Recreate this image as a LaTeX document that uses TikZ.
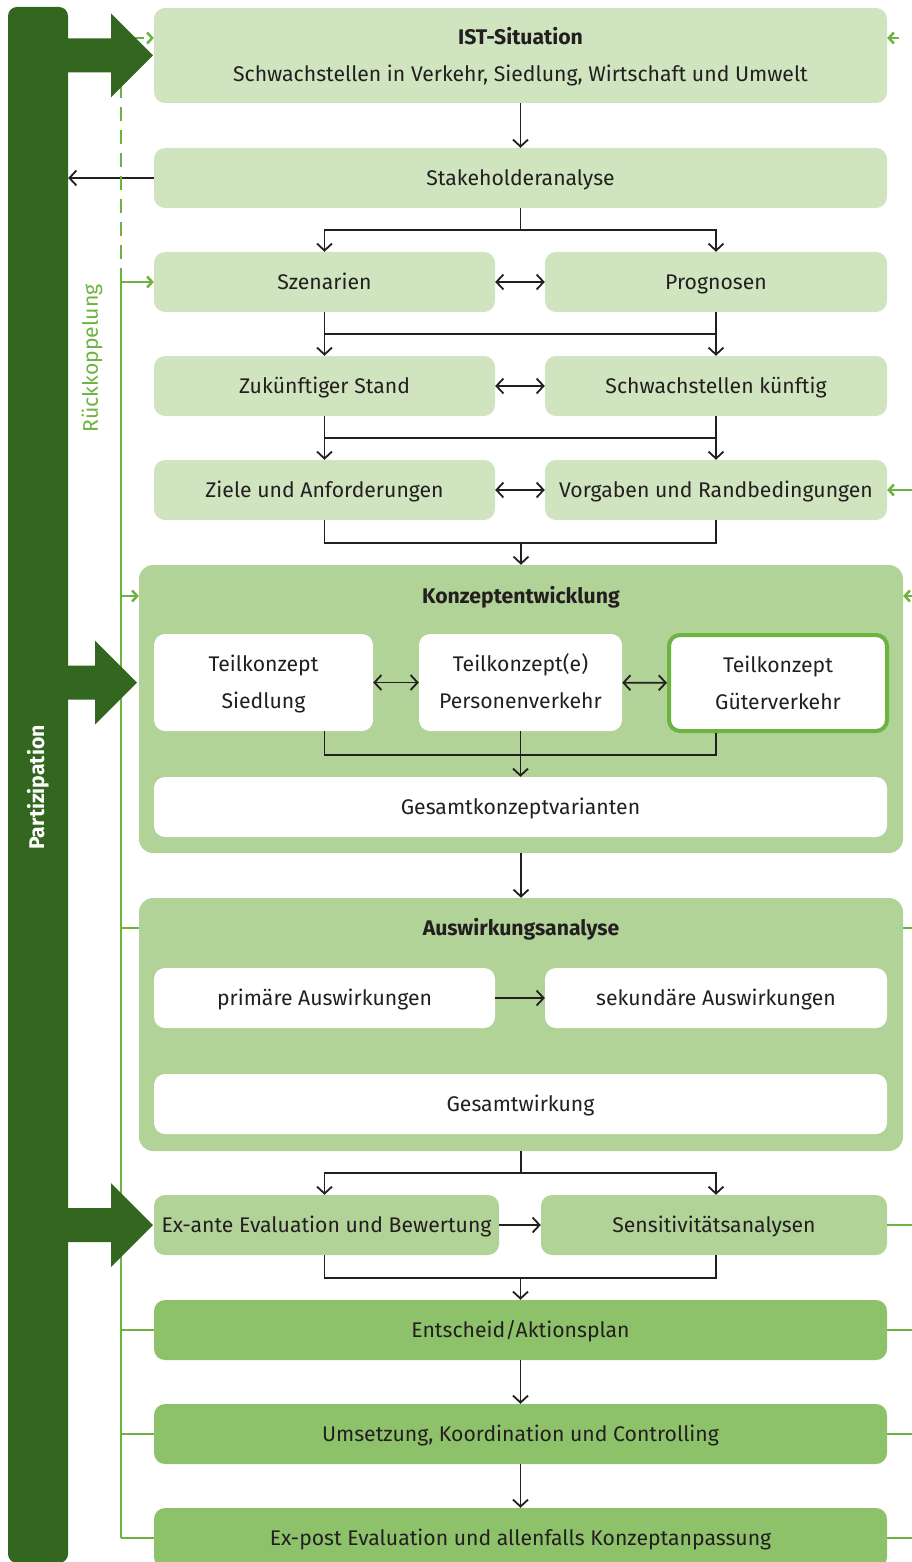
\documentclass[tikz,border=0pt]{standalone}
\usepackage{fontspec}
\setmainfont{Fira Sans}
\usetikzlibrary{arrows.meta}

\definecolor{dunkel}{HTML}{33661E}
\definecolor{hell}{HTML}{D0E4BF}
\definecolor{mittel}{HTML}{B2D398}
\definecolor{satt}{HTML}{8EC26A}
\definecolor{gruen}{HTML}{6DB33F}
\definecolor{schrift}{HTML}{231F20}

\begin{document}
\begin{tikzpicture}[x=1pt, y=-1pt,
  stufe/.style={rounded corners=11pt, fill=hell, text=schrift, inner sep=0pt, align=center,
    font=\fontsize{21.2}{37}\selectfont, minimum height=60, text height=15.5pt, text depth=0pt},
  zweizeilig/.style={text height=52.5pt, text depth=0pt},
  breit/.style={stufe, minimum width=733},
  halb/.style={stufe, minimum width=341},
  feld/.style={stufe, fill=mittel, rounded corners=14pt},
  weiss/.style={stufe, fill=white},
  titel/.style={text=schrift, font=\fontsize{21.2}{26}\selectfont\bfseries, text height=15.5pt, text depth=0pt},
  linie/.style={line width=1.8pt, schrift},
  pfeil/.style={linie, -{Straight Barb[length=7pt,width=15pt]}},
  doppel/.style={linie, {Straight Barb[length=7pt,width=15pt]}-{Straight Barb[length=7pt,width=15pt]}},
  rueckline/.style={line width=2.5pt, gruen},
  rueckpfeil/.style={rueckline, -{Straight Barb[length=5pt,width=11pt]}}]
\useasboundingbox (0,0) rectangle (912,1562);

% 왼쪽 막대
\node[fill=dunkel, rounded corners=9pt, inner sep=0pt, minimum width=60, minimum height=1556] (balken) at (38,785) {};
\node[rotate=90, text=white, font=\fontsize{21.2}{26}\selectfont\bfseries] (part) at (38,787.5) {Partizipation};
\node[rotate=90, text=gruen, font=\fontsize{21.2}{26}\selectfont] (rueck) at (92,358.5) {Rückkoppelung};

% 단계
\node[breit, zweizeilig, minimum height=95] (ist) at (520.5,55.5) {\textbf{IST-Situation}\\Schwachstellen in Verkehr, Siedlung, Wirtschaft und Umwelt};
\node[breit] (stake) at (520.5,178) {Stakeholderanalyse};
\node[halb] (szen) at (324.5,282) {Szenarien};
\node[halb, minimum width=342] (prog) at (716,282) {Prognosen};
\node[halb] (zuk) at (324.5,386) {Zukünftiger Stand};
\node[halb, minimum width=342] (schw) at (716,386) {Schwachstellen künftig};
\node[halb] (ziele) at (324.5,490) {Ziele und Anforderungen};
\node[halb, minimum width=342] (vorg) at (716,490) {Vorgaben und Randbedingungen};

% Konzeptentwicklung
\node[feld, minimum width=764, minimum height=288] (konz) at (521,709) {};
\node[titel] (konzt) at (521,596) {Konzeptentwicklung};
\node[weiss, zweizeilig, minimum width=219, minimum height=97] (tsied) at (263.5,682.5) {Teilkonzept\\Siedlung};
\node[weiss, zweizeilig, minimum width=203, minimum height=97] (tpers) at (520.5,682.5) {Teilkonzept(e)\\Personenverkehr};
\node[weiss, zweizeilig, draw=gruen, line width=4pt, minimum width=218, minimum height=96] (tgut) at (778,683) {Teilkonzept\\Güterverkehr};
\node[weiss, minimum width=733] (gesk) at (520.5,807) {Gesamtkonzeptvarianten};

% Auswirkungsanalyse
\node[feld, minimum width=764, minimum height=253] (ausw) at (521,1024.5) {};
\node[titel] (auswt) at (521,928) {Auswirkungsanalyse};
\node[weiss, minimum width=341] (prim) at (324.5,998) {primäre Auswirkungen};
\node[weiss, minimum width=342] (sek) at (716,998) {sekundäre Auswirkungen};
\node[weiss, minimum width=733] (gesw) at (520.5,1104) {Gesamtwirkung};

\node[stufe, fill=mittel, minimum width=345] (exante) at (326.5,1225) {Ex-ante Evaluation und Bewertung};
\node[stufe, fill=mittel, minimum width=346] (sens) at (714,1225) {Sensitivitätsanalysen};
\node[breit, fill=satt] (ents) at (520.5,1330) {Entscheid/Aktionsplan};
\node[breit, fill=satt] (ums) at (520.5,1434) {Umsetzung, Koordination und Controlling};
\node[breit, fill=satt] (expost) at (520.5,1538) {Ex-post Evaluation und allenfalls Konzeptanpassung};

% 검은 화살표
\coordinate (z1) at (324.5,543); \coordinate (z2) at (716,543);
\coordinate (k1) at (324.5,755); \coordinate (k2) at (716,755);
\coordinate (a1) at (324.5,1173); \coordinate (a2) at (716,1173);
\coordinate (e1) at (324.5,1278); \coordinate (e2) at (716,1278);

\draw[pfeil] (ist) -- (stake);
\draw[pfeil] (stake) -- (stake -| balken.east);
\draw[pfeil] (stake.south) -- ++(0,22) -| (szen.north);
\draw[pfeil] (stake.south) -- ++(0,22) -| (prog.north);
\draw[doppel] (szen) -- (prog);
\draw[pfeil] (szen) -- (zuk);
\draw[pfeil] (prog) -- (schw);
\draw[linie] ([yshift=-22pt]szen.south) -- ([yshift=-22pt]prog.south);
\draw[doppel] (zuk) -- (schw);
\draw[pfeil] (zuk) -- (ziele);
\draw[pfeil] (schw) -- (vorg);
\draw[linie] ([yshift=-22pt]zuk.south) -- ([yshift=-22pt]schw.south);
\draw[doppel] (ziele) -- (vorg);
\draw[linie] (ziele.south) -- (z1) -- (z2) -- (vorg.south);
\draw[pfeil] (z1 -| konz.north) -- (konz.north);

\draw[doppel] (tsied) -- (tpers);
\draw[doppel] (tpers) -- (tgut);
\draw[linie] (k1 |- tsied.south) -- (k1) -- (k2) -- (k2 |- tgut.south);
\draw[pfeil] (tpers) -- (gesk);
\draw[pfeil] (konz) -- (ausw);
\draw[pfeil] (prim) -- (sek);

\draw[pfeil] (ausw.south) |- (a1) -- (a1 |- exante.north);
\draw[pfeil] (ausw.south) |- (a2) -- (a2 |- sens.north);
\draw[pfeil] (exante) -- (sens);
\draw[linie] (e1 |- exante.south) -- (e1) -- (e2) -- (e2 |- sens.south);
\draw[pfeil] (e1 -| ents.north) -- (ents.north);
\draw[pfeil] (ents) -- (ums);
\draw[pfeil] (ums) -- (expost);

% 초록 되먹임 선
\coordinate (rl) at (121,0);
\coordinate (rr) at (912,0);
\coordinate (ri) at ([yshift=17.5pt]ist.west);
\coordinate (ro) at (899,38);
\draw[rueckpfeil, dash pattern=on 14pt off 9pt] (rl |- szen) |- (ri);
\draw[rueckpfeil] (rl |- szen) -- (szen);
\draw[rueckline] (rl |- szen) -- (rl |- expost);
\draw[rueckpfeil] (rl |- konzt) -- (konz.west |- konzt);
\draw[rueckline] (rl |- auswt) -- (ausw.west |- auswt);
\draw[rueckline] (rl |- ents) -- (ents);
\draw[rueckline] (rl |- ums) -- (ums);
\draw[rueckline] (rl |- expost) -- (expost);

\draw[rueckpfeil] (ro) -- (ist.east |- ro);
\draw[rueckpfeil] (rr |- vorg) -- (vorg);
\draw[rueckpfeil] (rr |- konzt) -- (konz.east |- konzt);
\draw[rueckline] (rr |- auswt) -- (ausw.east |- auswt);
\draw[rueckline] (rr |- sens) -- (sens);
\draw[rueckline] (rr |- ents) -- (ents);
\draw[rueckline] (rr |- ums) -- (ums);
\draw[rueckline] (rr |- expost) -- (expost);

% 큰 화살표
\foreach \tx/\ty in {153/55.5, 137/682.5, 153/1225}
  \fill[dunkel] (60,{\ty-17}) -- ({\tx-42},{\ty-17}) -- ({\tx-42},{\ty-42}) -- (\tx,\ty)
    -- ({\tx-42},{\ty+42}) -- ({\tx-42},{\ty+17}) -- (60,{\ty+17}) -- cycle;
\end{tikzpicture}
\end{document}
